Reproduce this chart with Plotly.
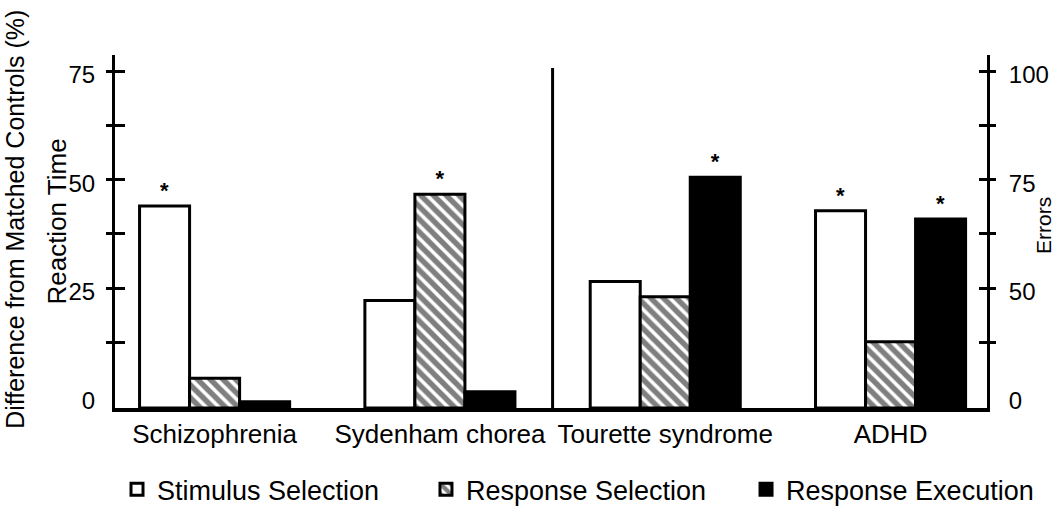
import plotly.graph_objects as go

# ---------------- data ----------------
categories = ["Schizophrenia", "Sydenham chorea", "Tourette syndrome", "ADHD"]
rt_groups = categories[:2]      # plotted against Reaction Time (left axis)
err_groups = categories[2:]     # plotted against Errors (right axis)

series_names = ["Stimulus Selection", "Response Selection", "Response Execution"]

stimulus_rt = [43.9, 22.1]
response_sel_rt = [4.2, 46.6]
response_exec_rt = [-1.2, 1.1]

stimulus_err = [51.5, 67.8]
response_sel_err = [48.0, 37.6]
response_exec_err = [75.5, 65.9]

# significance flags (asterisks) per category
stars_stimulus = [1, 0, 0, 1]
stars_response_sel = [0, 1, 0, 0]
stars_response_exec = [0, 0, 1, 1]

left_tick_vals = [0, 25, 50, 75]
left_tick_text = ["0", "25", "50", "75"]
right_tick_vals = [25, 50, 75, 100]
right_tick_text = ["0", "50", "75", "100"]
minor_tick_vals = [12.5, 25, 37.5, 50, 62.5, 75]

# ---------------- styling ----------------
FONT = "Liberation Sans, Arial, Helvetica, sans-serif"
RT_RANGE = [-2.65, 78.69]
ERR_RANGE = [RT_RANGE[0] + 25, RT_RANGE[1] + 25]
BAR_W = 0.222

styles = [
    dict(color="white", line=dict(color="black", width=3)),
    dict(color="white",
         pattern=dict(shape="\\", fgcolor="black", bgcolor="white", size=9, solidity=0.6),
         line=dict(color="black", width=3)),
    dict(color="black", line=dict(color="black", width=3)),
]
legend_ids = ["legend", "legend2", "legend3"]
legend_x = [0.1107, 0.4030, 0.7058]

rt_values = [stimulus_rt, response_sel_rt, response_exec_rt]
err_values = [stimulus_err, response_sel_err, response_exec_err]
stars = [stars_stimulus, stars_response_sel, stars_response_exec]

fig = go.Figure()

for k, name in enumerate(series_names):
    offset = -1.5 * BAR_W + k * BAR_W
    st = ["<b>*</b>" if s else "" for s in stars[k]]
    fig.add_trace(go.Bar(
        x=rt_groups, y=[v - RT_RANGE[0] for v in rt_values[k]], base=RT_RANGE[0],
        yaxis="y", width=BAR_W, offset=offset, marker=styles[k],
        text=st[:2], textposition="outside", textfont=dict(size=22, color="black", family=FONT),
        cliponaxis=False, name=name, legendgroup=name, showlegend=True,
        legend=legend_ids[k], hoverinfo="skip",
    ))
    fig.add_trace(go.Bar(
        x=err_groups, y=[v - ERR_RANGE[0] for v in err_values[k]], base=ERR_RANGE[0],
        yaxis="y2", width=BAR_W, offset=offset, marker=styles[k],
        text=st[2:], textposition="outside", textfont=dict(size=22, color="black", family=FONT),
        cliponaxis=False, name=name, legendgroup=name, showlegend=False,
        legend=legend_ids[k], hoverinfo="skip",
    ))

# invisible helper traces so the tick-only overlay axes are drawn
for ax in ["y3", "y4", "y5", "y6"]:
    fig.add_trace(go.Scatter(x=[None], y=[None], yaxis=ax, showlegend=False, hoverinfo="skip"))

tick_axis_common = dict(range=RT_RANGE, tickvals=minor_tick_vals, showticklabels=False,
                        showline=False, showgrid=False, zeroline=False, tickwidth=3,
                        tickcolor="black", overlaying="y")

legend_common = dict(orientation="h", xref="container", yref="container",
                     xanchor="left", y=0.032, yanchor="middle",
                     font=dict(size=27), bgcolor="rgba(0,0,0,0)")

fig.update_layout(
    width=1057, height=506,
    margin=dict(l=115, r=70, t=55, b=98),
    paper_bgcolor="white", plot_bgcolor="white",
    font=dict(family=FONT, color="black"),
    barmode="overlay",
    xaxis=dict(type="category", categoryorder="array", categoryarray=categories,
               range=[-0.442, 3.428], showline=True, linewidth=4, linecolor="black",
               ticks="", showgrid=False, zeroline=False, tickfont=dict(size=26),
               ticklabelstandoff=0, automargin=False),
    yaxis=dict(range=RT_RANGE, tickvals=left_tick_vals, ticktext=left_tick_text,
               ticks="", showline=True, linewidth=3, linecolor="black",
               showgrid=False, zeroline=False, tickfont=dict(size=24),
               ticklabelstandoff=12, ticklabelshift=4, automargin=False),
    yaxis2=dict(range=ERR_RANGE, overlaying="y", side="right",
                tickvals=right_tick_vals, ticktext=right_tick_text,
                ticks="", showline=True, linewidth=3, linecolor="black",
                showgrid=False, zeroline=False, tickfont=dict(size=24),
                ticklabelstandoff=14, ticklabelshift=4, automargin=False),
    yaxis3=dict(side="left", ticks="outside", ticklen=8, **tick_axis_common),
    yaxis4=dict(side="left", ticks="inside", ticklen=10, **tick_axis_common),
    yaxis5=dict(side="right", ticks="outside", ticklen=8, **tick_axis_common),
    yaxis6=dict(side="right", ticks="inside", ticklen=8, **tick_axis_common),
    legend=dict(x=legend_x[0], **legend_common),
    legend2=dict(x=legend_x[1], **legend_common),
    legend3=dict(x=legend_x[2], **legend_common),
    showlegend=True,
)

# divider between reaction-time and error panels
fig.add_shape(type="line", xref="x", yref="y",
              x0=(len(rt_groups) - 0.5), x1=(len(rt_groups) - 0.5),
              y0=RT_RANGE[0], y1=75.7, line=dict(color="black", width=3))

fig.add_annotation(text="Difference from Matched Controls (%)", xref="paper", yref="paper",
                   x=-0.1150, y=0.535, textangle=-90, showarrow=False,
                   xanchor="center", yanchor="middle", font=dict(size=25))
fig.add_annotation(text="Reaction Time", xref="paper", yref="paper",
                   x=-0.0670, y=0.527, textangle=-90, showarrow=False,
                   xanchor="center", yanchor="middle", font=dict(size=26))
fig.add_annotation(text="Errors", xref="paper", yref="paper",
                   x=1.064, y=0.518, textangle=-90, showarrow=False,
                   xanchor="center", yanchor="middle", font=dict(size=21))

fig.write_html("out.html", config={"displayModeBar": False},
               post_script="document.body.style.margin='0px';")
